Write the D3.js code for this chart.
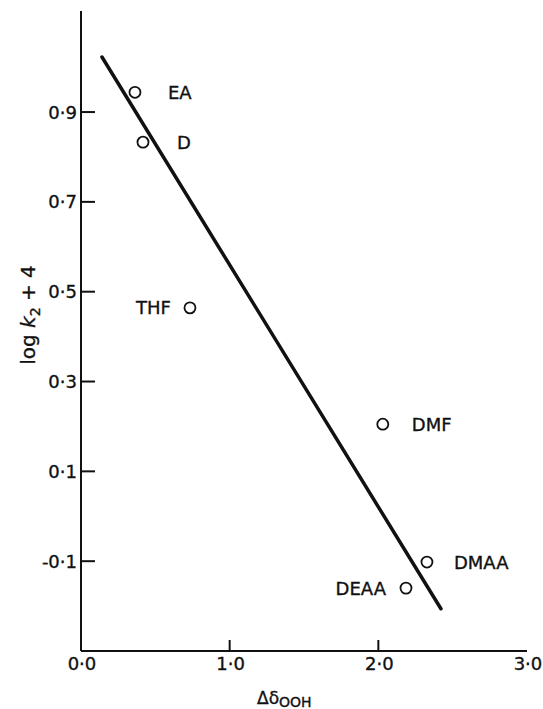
<!DOCTYPE html>
<html><head><meta charset="utf-8">
<script src="https://cdn.jsdelivr.net/npm/d3@7"></script>
<style>
body{margin:0;background:#fff;}
text{font-family:"DejaVu Sans",sans-serif;fill:#111;stroke:#111;stroke-width:0.35px;}
</style></head>
<body><svg id="c" width="543" height="709"></svg>
<script>
const solvents = ["EA","D","THF","DMF","DMAA","DEAA"];
const deltaOOH = [0.363,0.417,0.733,2.03,2.327,2.186];
const logK2 = [0.944,0.833,0.464,0.205,-0.102,-0.160];
const labelSide = ["right","right","left","right","right","left"];
const fitLineX = [0.141,2.421];
const fitLineY = [1.0225,-0.206];
const xTicks = [0,1,2,3];
const xTickLabels = ["0·0","1·0","2·0","3·0"];
const yTicks = [0.9,0.7,0.5,0.3,0.1,-0.1];
const yTickLabels = ["0·9","0·7","0·5","0·3","0·1","-0·1"];

const svg = d3.select("#c");
const x = d3.scaleLinear().domain([0,3]).range([81,527]);
const y = d3.scaleLinear().domain([-0.3,1.125]).range([651,11]);

// axes lines
svg.append("line").attr("x1",x(0)).attr("x2",x(0)).attr("y1",y(1.125)).attr("y2",y(-0.3))
  .attr("stroke","#111").attr("stroke-width",2);
svg.append("line").attr("x1",x(0)).attr("x2",x(3)).attr("y1",y(-0.3)).attr("y2",y(-0.3))
  .attr("stroke","#111").attr("stroke-width",2);

// y ticks
yTicks.forEach((v,i)=>{
  svg.append("line").attr("x1",x(0)).attr("x2",x(0)+14).attr("y1",y(v)).attr("y2",y(v))
    .attr("stroke","#111").attr("stroke-width",2);
  svg.append("text").attr("x",x(0)-4).attr("y",y(v)).attr("dy","0.36em")
    .attr("text-anchor","end").attr("font-size",18).text(yTickLabels[i]);
});
// x ticks
xTicks.forEach((v,i)=>{
  if(v>0 && v<3) svg.append("line").attr("x1",x(v)).attr("x2",x(v)).attr("y1",y(-0.3)).attr("y2",y(-0.3)-11)
    .attr("stroke","#111").attr("stroke-width",2);
  svg.append("text").attr("x",x(v)+1).attr("y",y(-0.3)+19).attr("text-anchor","middle")
    .attr("font-size",18).text(xTickLabels[i]);
});

// fit line
svg.append("line").attr("x1",x(fitLineX[0])).attr("y1",y(fitLineY[0]))
  .attr("x2",x(fitLineX[1])).attr("y2",y(fitLineY[1]))
  .attr("stroke","#111").attr("stroke-width",3.5).attr("stroke-linecap","round");

// points
const offs = {EA:33,D:34,THF:19,DMF:29,DMAA:27,DEAA:20};
solvents.forEach((s,i)=>{
  svg.append("circle").attr("cx",x(deltaOOH[i])).attr("cy",y(logK2[i])).attr("r",5.5)
    .attr("fill","none").attr("stroke","#111").attr("stroke-width",1.8);
  const right = labelSide[i]==="right";
  const off = offs[s];
  svg.append("text").attr("x",x(deltaOOH[i]) + (right?off:-off)).attr("y",y(logK2[i])).attr("dy","0.36em")
    .attr("text-anchor",right?"start":"end").attr("font-size",18).text(s);
});

// x title
const xt = svg.append("text").attr("x",257).attr("y",704).attr("font-size",17);
xt.append("tspan").text("Δδ");
xt.append("tspan").attr("dy",3).attr("font-size",14).text("OOH");

// y title
const yt = svg.append("text").attr("transform","translate(35,315) rotate(-90)")
  .attr("text-anchor","middle").attr("font-size",20);
yt.append("tspan").text("log ");
yt.append("tspan").attr("font-style","italic").text("k");
yt.append("tspan").attr("dy",5).attr("font-size",14).text("2");
yt.append("tspan").attr("dy",-5).text(" + 4");
</script></body></html>
